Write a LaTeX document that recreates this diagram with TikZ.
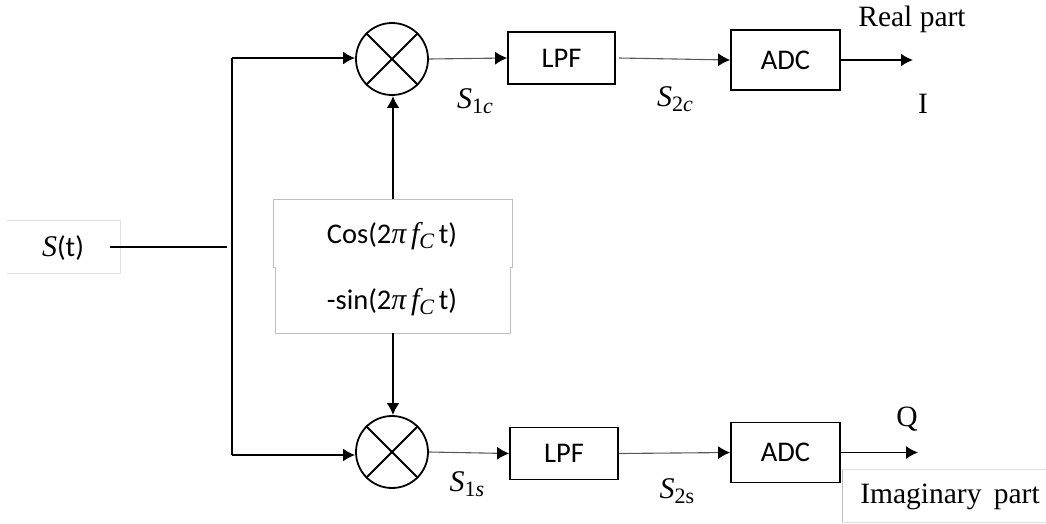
\documentclass[tikz,border=0pt]{standalone}
\usepackage{fontspec}
\setmainfont{Carlito}
\newfontfamily\serifface{Liberation Serif}
\newcommand{\mi}[1]{{\fontsize{30}{32}\selectfont\serifface\itshape #1}}
\newcommand{\subs}[1]{\raisebox{-5pt}{\fontsize{22}{24}\selectfont\serifface #1}}
\usetikzlibrary{arrows.meta,calc}
\tikzset{
  x=1pt,y=-1pt,
  blockbox/.style={draw=black,line width=1.8pt,minimum width=#1,minimum height=52pt,inner sep=0pt,font=\fontsize{28.5}{30}\selectfont},
  mixer/.style={circle,draw=black,line width=1.8pt,minimum size=72pt,inner sep=0pt},
  thinwire/.style={draw=black!65,line width=1.1pt,-{Latex[length=12pt,width=13pt,black]}},
  thickwire/.style={draw=black,line width=2pt,-{Latex[length=12pt,width=13pt,black]}},
  plainwire/.style={draw=black,line width=2pt},
  calibri/.style={font=\fontsize{28.5}{30}\selectfont,inner sep=0pt},
  serif/.style={font=\fontsize{29.5}{32}\selectfont\serifface,inner sep=0pt},
  sig/.style={font=\fontsize{24}{28}\selectfont,inner sep=0pt},
  lightedge/.style={draw=black!12,line width=1pt},
  greyedge/.style={draw=black!25,line width=1pt}
}
\begin{document}
\begin{tikzpicture}
\useasboundingbox (0,0) rectangle (1046,523);
\fill[white] (0,0) rectangle (1046,523);
% label boxes
\draw[lightedge] (7,220) -- (120.5,220) -- (120.5,273) -- (7,273);
\draw[greyedge] (275,267) -- (273,267) -- (273,199) -- (512,199) -- (512,267) -- (510,267);
\draw[greyedge] (275,267) -- (275,333) -- (510,333) -- (510,267);
\draw[lightedge] (1046,469) -- (842,469);
\draw[greyedge] (842,469) -- (842,522);
\draw[lightedge] (842,522) -- (1046,522);
% blocks
\node[mixer] (m1) at (392,59) {};
\node[mixer] (m2) at (392,452) {};
\draw[line width=1.8pt] (m1.north west) -- (m1.south east) (m1.north east) -- (m1.south west);
\draw[line width=1.8pt] (m2.north west) -- (m2.south east) (m2.north east) -- (m2.south west);
\node[blockbox=107pt] (l1) at (561.5,58) {LPF};
\node[blockbox=108pt] (l2) at (564,453.5) {LPF};
\node[blockbox=109pt,minimum height=60pt] (a1) at (785.5,60) {ADC};
\node[blockbox=109pt,minimum height=60pt] (a2) at (785.5,452.5) {ADC};
% text
\node[calibri] (st) at (63,248) {\mi{S}(t)};
\node[calibri] (cs) at (392,236) {Cos(2\mi{π}\,\mi{f}\subs{\itshape C}\,t)};
\node[calibri] (sn) at (392,302) {-sin(2\mi{π}\,\mi{f}\subs{\itshape C}\,t)};
\node[sig] (s1c) at (475,101) {\mi{S}\subs{1\itshape c}};
\node[sig] (s2c) at (675,99) {\mi{S}\subs{2\itshape c}};
\node[sig] (s1s) at (467,484) {\mi{S}\subs{1\itshape s}};
\node[sig] (s2s) at (677,491) {\mi{S}\subs{2s}};
\node[serif] (re) at (912,19) {Real part};
\node[serif] (i) at (923,104) {I};
\node[serif] (q) at (907,419) {Q};
\node[serif] (im) at (950,497) {Imaginary\, part};
% connectors
\coordinate (tl) at (232,58);
\coordinate (bl) at (232,455);
\coordinate (j) at (227,247);
\coordinate (sstart) at (110,247);
\coordinate (o1) at (913,60);
\coordinate (o2) at (918,452.5);
\coordinate (csb) at (393,199);
\coordinate (snb) at (393,333);
\draw[plainwire] (sstart) -- (j);
\draw[thickwire] (bl) -- (m2.west |- bl);
\draw[plainwire] (bl) -- (tl);
\draw[thickwire] (tl) -- (m1.west |- tl);
\draw[thickwire,line width=2.6pt] (csb) -- (m1.south -| csb);
\draw[thickwire,line width=2.6pt] (snb) -- (m2.north -| snb);
\draw[thinwire] (m1.east) -- (l1.west);
\draw[thinwire] (l1.east) ++(3,0) -- (a1.west);
\draw[thickwire] (a1.east) -- (o1);
\draw[thinwire] (m2.east) -- (l2.west);
\draw[thinwire] (l2.east) -- (a2.west);
\draw[thickwire,line width=1.3pt] (a2.east) -- (o2);
\end{tikzpicture}
\end{document}
